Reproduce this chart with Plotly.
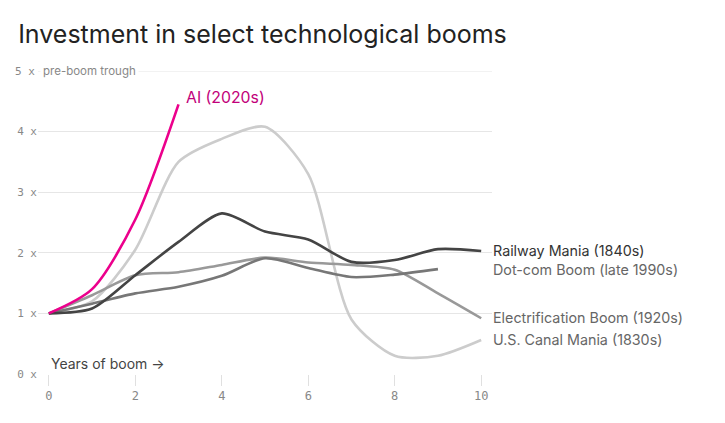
import plotly.graph_objects as go

years = list(range(0, 11))
ai = [1.0, 1.4, 2.55, 4.45]
canal = [1.0, 1.2, 2.05, 3.5, 3.88, 4.08, 3.3, 0.9, 0.3, 0.3, 0.56]
railway = [1.0, 1.08, 1.63, 2.18, 2.65, 2.35, 2.22, 1.85, 1.88, 2.06, 2.03]
electrification = [1.0, 1.3, 1.63, 1.68, 1.8, 1.92, 1.84, 1.8, 1.72, 1.33, 0.92]
dotcom = [1.0, 1.16, 1.33, 1.44, 1.62, 1.91, 1.75, 1.6, 1.64, 1.73]
y_ticks = [0, 1, 2, 3, 4]
y_tick_text = ["0\u2009x", "1\u2009x", "2\u2009x", "3\u2009x", "4\u2009x"]
x_ticks = [0, 2, 4, 6, 8, 10]

series = [
    ("U.S. Canal Mania (1830s)", canal, "#cccccc", "#666666"),
    ("Electrification Boom (1920s)", electrification, "#999999", "#666666"),
    ("Dot-com Boom (late 1990s)", dotcom, "#777777", "#666666"),
    ("Railway Mania (1840s)", railway, "#444444", "#333333"),
]
label_y = {
    "Railway Mania (1840s)": 2.04,
    "Dot-com Boom (late 1990s)": 1.72,
    "Electrification Boom (1920s)": 0.93,
    "U.S. Canal Mania (1830s)": 0.57,
}

fig = go.Figure()
for name, vals, col, lcol in series:
    fig.add_trace(go.Scatter(x=years[:len(vals)], y=vals, mode="lines",
                             line=dict(color=col, width=2.6, shape="spline", smoothing=0.75),
                             hoverinfo="skip", showlegend=False))
fig.add_trace(go.Scatter(x=years[:len(ai)], y=ai, mode="lines",
                         line=dict(color="#ec008c", width=2.6, shape="spline", smoothing=0.8),
                         hoverinfo="skip", showlegend=False))

annotations = []
for name, vals, col, lcol in series:
    annotations.append(dict(x=10.22, y=label_y[name], xref="x", yref="y", text=name,
                            showarrow=False, xanchor="left", yanchor="middle",
                            font=dict(family="Inter", size=14.3, color=lcol)))
annotations.append(dict(x=3.12, y=4.56, xref="x", yref="y", text="AI (2020s)",
                        showarrow=False, xanchor="left", yanchor="middle",
                        font=dict(family="Inter", size=15.8, color="#c2007a")))
annotations.append(dict(x=0.0, y=0.17, xref="x", yref="y", text="Years of boom →",
                        showarrow=False, xanchor="left", yanchor="middle",
                        font=dict(family="Inter", size=14, color="#444444")))
annotations.append(dict(x=0, y=5, xref="paper", yref="y", text="5\u2009x",
                        showarrow=False, xanchor="right", yanchor="middle", xshift=-1,
                        font=dict(family="DejaVu Sans Mono", size=11, color="#888888")))
annotations.append(dict(x=0, y=5, xref="paper", yref="y", text="pre-boom trough",
                        showarrow=False, xanchor="left", yanchor="middle", xshift=2,
                        bgcolor="white", borderpad=2,
                        font=dict(family="Inter", size=11.5, color="#888888")))

fig.update_layout(
    width=725, height=423,
    margin=dict(l=38, r=233, t=71, b=49),
    plot_bgcolor="white", paper_bgcolor="white",
    title=dict(text="Investment in select technological booms", x=0.025, xanchor="left",
               y=0.92, yanchor="middle",
               font=dict(family="Inter", size=25, color="#222222")),
    annotations=annotations,
    xaxis=dict(range=[-0.25, 10.25], tickvals=x_ticks, showgrid=False,
               zeroline=False, showline=False, ticks="outside", ticklen=11,
               tickcolor="#e0e0e0", tickwidth=1,
               tickfont=dict(family="DejaVu Sans Mono", size=12, color="#888888")),
    yaxis=dict(range=[0, 5], tickvals=y_ticks, ticktext=y_tick_text,
               showgrid=True, gridcolor="#e6e6e6", gridwidth=1, zeroline=False,
               tickfont=dict(family="DejaVu Sans Mono", size=11, color="#888888")),
    shapes=[dict(type="line", xref="paper", yref="y", x0=0, x1=1, y0=5, y1=5,
                 line=dict(color="#e6e6e6", width=1), layer="below")],
)
fig.write_html("out.html")
